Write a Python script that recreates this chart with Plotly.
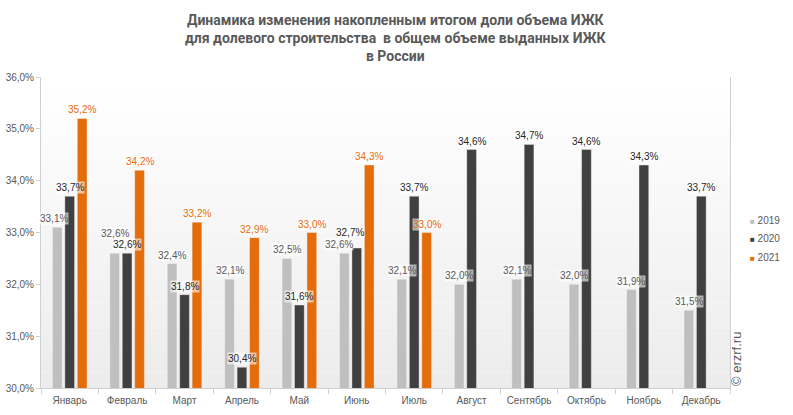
import plotly.graph_objects as go

months = ["Январь", "Февраль", "Март", "Апрель", "Май", "Июнь", "Июль",
          "Август", "Сентябрь", "Октябрь", "Ноябрь", "Декабрь"]
years = ["2019", "2020", "2021"]
v2019 = [33.1, 32.6, 32.4, 32.1, 32.5, 32.6, 32.1, 32.0, 32.1, 32.0, 31.9, 31.5]
v2020 = [33.7, 32.6, 31.8, 30.4, 31.6, 32.7, 33.7, 34.6, 34.7, 34.6, 34.3, 33.7]
v2021 = [35.2, 34.2, 33.2, 32.9, 33.0, 34.3, 33.0, None, None, None, None, None]
title_lines = ["Динамика изменения накопленным итогом доли объема ИЖК",
               "для долевого строительства  в общем объеме выданных ИЖК",
               "в России"]

series = [v2019, v2020, v2021]
bar_colors = ["#BFBFBF", "#404040", "#E46C0A"]
label_colors = ["#595959", "#262626", "#E46C0A"]

# layout geometry
L, R, T, B = 41, 63, 77, 27
W, H = 793, 415
plot_w = W - L - R
plot_h = H - T - B
cat_w = plot_w / len(months)
bargap, bargroupgap = 0.35, 0.22
slot = cat_w * (1 - bargap) / 3


def px_x(xp):
    return (xp - L) / plot_w


def px_y(yp):
    return (H - B - yp) / plot_h


fig = go.Figure()
for name, vals, col in zip(years, series, bar_colors):
    fig.add_trace(go.Bar(
        x=months, y=vals, name=name,
        marker=dict(color=col, line=dict(color="rgba(255,255,255,0.35)", width=1)),
        showlegend=False, hoverinfo="x+y+name",
    ))


def fmt(v):
    return f"{v:.1f}".replace(".", ",") + "%"


# label nudges (style only): (series index, month index) -> (dx, dy)
nudges = {(0, 1): (0, 11), (1, 5): (-7, 7), (0, 5): (-5, 0), (0, 0): (-3, 0)}

annotations = []
for si, vals in enumerate(series):
    for mi, v in enumerate(vals):
        if v is None:
            continue
        dx, dy = nudges.get((si, mi), (0, 0))
        annotations.append(dict(
            x=months[mi], y=v, xref="x", yref="y",
            text=fmt(v), showarrow=False,
            xshift=(si - 1) * slot + dx, yshift=2 + dy,
            yanchor="bottom", xanchor="center",
            font=dict(family="Arial, Liberation Sans", size=10, color=label_colors[si]),
            bgcolor="rgba(255,255,255,0.6)", borderpad=0,
        ))

# legend drawn as text entries
for i, (name, col) in enumerate(zip(years, bar_colors)):
    ypix = 220 + i * 18.7
    annotations.append(dict(
        x=px_x(748), y=px_y(ypix),
        xref="paper", yref="paper", xanchor="left", yanchor="middle",
        text=f'<span style="color:{col}; font-size:8px">■</span> {name}',
        showarrow=False,
        font=dict(family="Arial, Liberation Sans", size=10, color="#595959"),
    ))

# watermark
annotations.append(dict(
    x=px_x(736), y=0, xref="paper", yref="paper",
    xanchor="center", yanchor="bottom", textangle=-90,
    text="© erzrf.ru", showarrow=False,
    font=dict(family="Arial, Liberation Sans", size=13, color="#595959"),
))

# title
annotations.append(dict(
    x=px_x(396.5), y=px_y(10), xref="paper", yref="paper",
    xanchor="center", yanchor="top",
    text="<br>".join(f"<b>{t}</b>" for t in title_lines),
    showarrow=False,
    font=dict(family="Roboto", size=14, color="#595959"),
))

# gradient background stripes
shapes = []
n = 40
for k in range(n):
    t = k / (n - 1)
    c = int(round(255 - (255 - 236) * t))
    shapes.append(dict(
        type="rect", xref="paper", yref="paper",
        x0=0, x1=1, y0=1 - (k + 1) / n, y1=1 - k / n,
        fillcolor=f"rgb({c},{c},{c})", line=dict(width=0), layer="below",
    ))

fig.update_layout(
    width=W, height=H,
    margin=dict(l=L, r=R, t=T, b=B, pad=0, autoexpand=False),
    barmode="group", bargap=bargap, bargroupgap=bargroupgap,
    plot_bgcolor="white", paper_bgcolor="white",
    separators=", ",
    annotations=annotations, shapes=shapes,
    font=dict(family="Arial, Liberation Sans", color="#595959"),
    xaxis=dict(
        type="category", showgrid=False, showline=True, linecolor="#D0D0D0",
        linewidth=1, ticks="outside", tickson="boundaries", ticklen=5,
        tickcolor="#D0D0D0", tickfont=dict(size=10, color="#595959"),
        range=[-0.5, 11.5], automargin=False, ticklabelstandoff=3,
    ),
    yaxis=dict(
        range=[30, 36], dtick=1, tickformat=".1f", ticksuffix="%",
        showgrid=False, zeroline=False, showline=True, mirror=True,
        linecolor="#D0D0D0", linewidth=1, ticks="outside", ticklen=4,
        tickcolor="#D0D0D0", tickfont=dict(size=10, color="#595959"),
        automargin=False,
    ),
)

fig.write_html(
    "out.html",
    config={"displayModeBar": False},
    post_script="document.body.style.margin='0';document.body.style.padding='0';",
)
